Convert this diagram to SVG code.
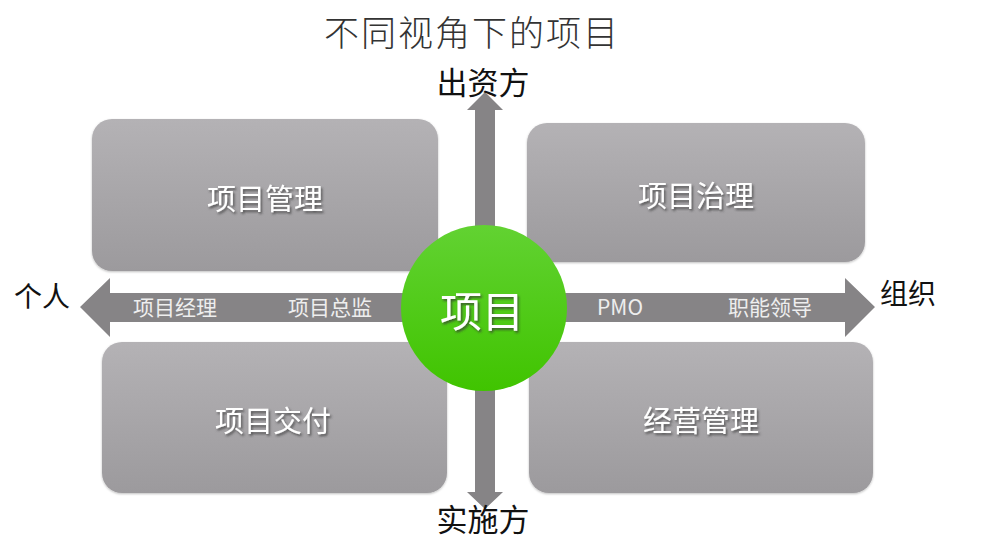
<svg xmlns="http://www.w3.org/2000/svg" width="987" height="539" viewBox="0 0 987 539">
<style>
.box{fill:url(#boxg);}
.arrow{fill:#868486;}
.bt{font-family:"Noto Sans CJK SC","Noto Sans",sans-serif;font-size:29px;fill:#ffffff;text-anchor:middle;dominant-baseline:central;filter:url(#sh);}
.at{font-family:"Noto Sans CJK SC","Noto Sans",sans-serif;font-size:21px;fill:#eeeeee;text-anchor:middle;dominant-baseline:central;}
.lab{font-family:"Noto Sans CJK SC","Noto Sans",sans-serif;fill:#111111;text-anchor:middle;dominant-baseline:central;}
</style>
<defs>
<linearGradient id="boxg" x1="0" y1="0" x2="0" y2="1">
<stop offset="0" stop-color="#b4b2b5"/>
<stop offset="1" stop-color="#9c9a9d"/>
</linearGradient>
<linearGradient id="circg" x1="0" y1="0" x2="0" y2="1">
<stop offset="0" stop-color="#62d232"/>
<stop offset="1" stop-color="#40c400"/>
</linearGradient>
<filter id="sh" x="-20%" y="-30%" width="140%" height="160%">
<feDropShadow dx="1.5" dy="2" stdDeviation="1.2" flood-color="#333" flood-opacity="0.7"/>
</filter>
<filter id="bsh" x="-5%" y="-5%" width="110%" height="115%">
<feDropShadow dx="0" dy="1" stdDeviation="1" flood-color="#000" flood-opacity="0.25"/>
</filter>
</defs>
<rect width="987" height="539" fill="#ffffff"/>
<text x="472" y="30" font-family="'Noto Sans CJK SC','Noto Sans',sans-serif" font-size="35" font-weight="300" fill="#333333" text-anchor="middle" dominant-baseline="central" letter-spacing="2">不同视角下的项目</text>
<g id="node-tl"><rect class="box" x="92" y="119" width="346" height="152" rx="20" filter="url(#bsh)"/><text class="bt" x="265" y="197">项目管理</text></g>
<g id="node-tr"><rect class="box" x="527" y="123" width="338" height="139" rx="20" filter="url(#bsh)"/><text class="bt" x="696" y="194">项目治理</text></g>
<g id="node-bl"><rect class="box" x="102" y="342" width="345" height="151" rx="20" filter="url(#bsh)"/><text class="bt" x="273" y="419">项目交付</text></g>
<g id="node-br"><rect class="box" x="529" y="342" width="344" height="151" rx="20" filter="url(#bsh)"/><text class="bt" x="701" y="419">经营管理</text></g>
<g id="connectors">
<polygon class="arrow" points="485,92 503,110 495,110 495,492 503,492 485,509 467,492 475,492 475,110 467,110"/>
<polygon class="arrow" points="80,307 110,278 110,293 845,293 845,278 875,307 845,337 845,322 110,322 110,337"/>
</g>
<g id="labels">
<text class="at" x="175" y="306">项目经理</text>
<text class="at" x="330" y="306">项目总监</text>
<text class="at" x="620" y="306">PMO</text>
<text class="at" x="770" y="306">职能领导</text>
<text class="lab" x="483" y="80" font-size="31">出资方</text>
<text class="lab" x="483" y="517" font-size="31">实施方</text>
<text class="lab" x="42" y="295" font-size="28">个人</text>
<text class="lab" x="908" y="292" font-size="28">组织</text>
</g>
<g id="node-center"><circle cx="484" cy="308" r="83" fill="url(#circg)"/><text x="482" y="308" font-family="'Noto Sans CJK SC','Noto Sans',sans-serif" font-size="42" fill="#ffffff" text-anchor="middle" dominant-baseline="central" filter="url(#sh)">项目</text></g>
</svg>
